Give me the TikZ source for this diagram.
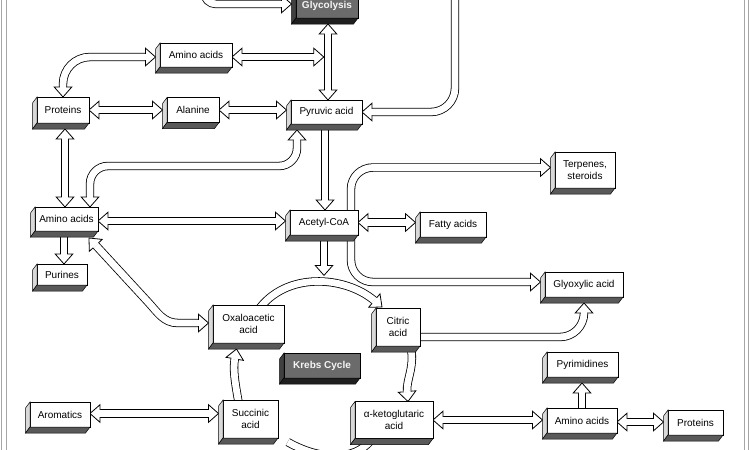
\documentclass[tikz,border=0pt]{standalone}
\usepackage{fontspec}
\setmainfont{Liberation Sans}
\usetikzlibrary{calc,decorations.markings}
\pgfdeclarelayer{bg}
\pgfdeclarelayer{arr}
\pgfsetlayers{bg,arr,main}
\def\HL{10pt}
\newcommand\headshape{%
  \draw[black,fill=white,line width=0.8pt,line join=miter] (0pt,0pt) -- (-10pt,8.8pt) -- (-10pt,-8.8pt) -- cycle;
  \fill[white] (-10.8pt,-3.4pt) rectangle (-9pt,3.4pt);}
\newcommand\headback{%
  \draw[black,fill=white,line width=0.8pt,line join=miter] (0pt,0pt) -- (10pt,8.8pt) -- (10pt,-8.8pt) -- cycle;
  \fill[white] (10.8pt,-3.4pt) rectangle (9pt,3.4pt);}
\tikzset{
  shaftO/.style={line width=8.4pt, draw=black},
  shaftI/.style={line width=6.8pt, draw=white},
  hE/.style={decorate, decoration={markings, mark=at position 1 with {\headshape}}},
  hB/.style={decorate, decoration={markings, mark=at position 0 with {\headback}, mark=at position 1 with {\headshape}}},
  box/.style={draw, line width=0.7pt, fill=white, inner sep=0pt, outer sep=0pt, align=center, font=\fontsize{10}{12}\selectfont},
  dbox/.style={box, fill=black!58, text=gray!8, font=\fontsize{10}{12}\selectfont\bfseries},
  sideL/.style={fill=gray!30, draw=black, line width=0.5pt},
  sideB/.style={fill=black!65, draw=black, line width=0.5pt},
  dsideL/.style={fill=black!75, draw=black, line width=0.5pt},
  dsideB/.style={fill=black!88, draw=black, line width=0.5pt},
}
\newcommand\FE[1]{\draw[shaftO, shorten >=\HL] #1; \draw[shaftI, shorten >=\HL] #1; \path[hE] #1;}
\newcommand\FB[1]{\draw[shaftO, shorten >=\HL, shorten <=\HL] #1; \draw[shaftI, shorten >=\HL, shorten <=\HL] #1; \path[hB] #1;}
\newcommand\ext[3]{% #1 name, #2 left style, #3 bottom style
  \draw[#2] (#1.north west) -- ($(#1.north west)+(-4.5,6)$) -- ($(#1.south west)+(-4.5,6)$) -- (#1.south west) -- cycle;
  \draw[#3] (#1.south west) -- ($(#1.south west)+(-4.5,6)$) -- ($(#1.south east)+(-4.5,6)$) -- (#1.south east) -- cycle;}
\begin{document}
\begin{tikzpicture}[x=1pt,y=-1pt]
\clip (0,0) rectangle (750,450);
\begin{pgfonlayer}{bg}
\fill[white] (0,0) rectangle (750,450);
\end{pgfonlayer}
% frame
\draw[gray!70, line width=0.8pt] (1.5,0) -- (1.5,450) (6,0) -- (6,450) (744.3,0) -- (744.3,450) (748.3,0) -- (748.3,450);
% boxes
\node[dbox, minimum width=62pt, minimum height=24pt] (gly) at (327,6) {Glycolysis};
\node[box, minimum width=72pt, minimum height=24pt] (aaT) at (196,55) {Amino acids};
\node[box, minimum width=52pt, minimum height=26pt] (prot1) at (63,110) {Proteins};
\node[box, minimum width=52pt, minimum height=25pt] (ala) at (193,110) {Alanine};
\node[box, minimum width=71pt, minimum height=24pt] (pyr) at (326.5,112) {Pyruvic acid};
\node[box, minimum width=63pt, minimum height=24pt] (aaL) at (66.5,219) {Amino acids};
\node[box, minimum width=50pt, minimum height=21pt] (pur) at (62,274.5) {Purines};
\node[box, minimum width=68pt, minimum height=25pt] (acc) at (324,222.5) {Acetyl-CoA};
\node[box, minimum width=66pt, minimum height=25pt] (fat) at (453,224.5) {Fatty acids};
\node[box, minimum width=60pt, minimum height=36pt] (ter) at (585,170) {Terpenes,\\steroids};
\node[box, minimum width=78pt, minimum height=25pt] (glx) at (584,284.5) {Glyoxylic acid};
\node[box, minimum width=71pt, minimum height=38pt] (oxa) at (248.5,324) {Oxaloacetic\\acid};
\node[box, minimum width=44pt, minimum height=38pt] (cit) at (398,327) {Citric\\acid};
\node[dbox, minimum width=76pt, minimum height=25pt] (krebs) at (322,365.5) {Krebs Cycle};
\node[box, minimum width=55pt, minimum height=38pt] (suc) at (250.5,419) {Succinic\\acid};
\node[box, minimum width=78pt, minimum height=37pt] (akg) at (394,420) {α-ketoglutaric\\acid};
\node[box, minimum width=70pt, minimum height=25pt] (aaR) at (582,420.5) {Amino acids};
\node[box, minimum width=71pt, minimum height=25pt] (pyrim) at (582.5,364.5) {Pyrimidines};
\node[box, minimum width=55pt, minimum height=25pt] (prot2) at (695.5,422.5) {Proteins};
\node[box, minimum width=60pt, minimum height=25pt] (aro) at (60,414.5) {Aromatics};
% extrusions
\foreach \n in {aaT,prot1,ala,pyr,aaL,pur,acc,fat,ter,glx,oxa,cit,suc,akg,aaR,pyrim,prot2,aro} {\ext{\n}{sideL}{sideB}}
\foreach \n in {gly,krebs} {\ext{\n}{dsideL}{dsideB}}
% connectors
\coordinate (j1) at (323.8,57);
\coordinate (ktop) at (324,275.4);
\begin{pgfonlayer}{arr}
\FE{(204,-30) -- (204,-8) to[out=-90,in=180] (216,4) -- ($(gly.west)+(-4.5,-2)$)}
\FE{(455,-30) -- (455,88) to[out=-90,in=0] (431,112) -- (pyr.east)}
\FB{($(gly.south)+(1,6)$) -- ($(pyr.north)+(1.5,0)$)}
\FB{($(aaT.east)+(0,2)$) -- (j1)}
\FB{($(aaT.west)+(-4.5,2)$) -- (90,57) to[out=180,in=90] (63,84) -- (prot1.north)}
\FB{(prot1.east) -- ($(ala.west)+(-4.5,0)$)}
\FB{(ala.east) -- ($(pyr.west)+(-4.5,-2)$)}
\FB{($(prot1.south)+(2,6)$) -- ($(aaL.north)+(-1.5,0)$)}
\FB{($(pyr.south west)+(6,6)$) -- (297,148) to[out=-90,in=0] (279,166) -- (108,166) to[out=180,in=90] (90,184) -- ($(aaL.north)+(23.5,0)$)}
\FE{($(pyr.south)+(-1.5,0)$) -- ($(acc.north)+(1,0)$)}
\FB{($(aaL.east)+(0,2)$) -- ($(acc.west)+(-4.5,-1.5)$)}
\FE{($(aaL.south)+(-2.5,0)$) -- ($(pur.north)+(2,0)$)}
\FB{($(aaL.south east)+(-9,7)$) -- (148,302) to[out=-47.3,in=180] (178,323) -- ($(oxa.west)+(-4.5,-1)$)}
\FB{(acc.east) -- ($(fat.west)+(-4.5,-2)$)}
\FB{($(ter.west)+(-4.5,-2.5)$) -- (373,167.5) to[out=180,in=90] (351,189) -- (351,260) to[out=-90,in=180] (373,282) -- ($(glx.west)+(-4.5,-2.5)$)}
\FE{($(oxa.north)+(9,6)$) to[out=55,in=140] ($(cit.north west)+(6,-1)$)}
\FE{(acc.south) -- (ktop)}
\FE{($(cit.south)+(12,-2)$) to[out=-75,in=95] ($(akg.north)+(14,0)$)}
\FE{($(akg.south)+(-20,-2)$) to[out=-125,in=-30] ($(suc.south east)+(1,-1)$)}
\FE{($(suc.north)+(-12,2)$) to[out=100,in=-100] ($(oxa.south)+(-12,6)$)}
\FE{($(cit.east)+(-2,10)$) -- (560,337) to[out=0,in=-90] (584,313) -- ($(glx.south)+(0,6)$)}
\FB{(akg.east) -- ($(aaR.west)+(-4.5,-0.5)$)}
\FE{(aaR.north) -- ($(pyrim.south)+(-0.5,6)$)}
\FB{($(aaR.east)+(0,1.5)$) -- ($(prot2.west)+(-4.5,-0.5)$)}
\FB{($(aro.east)+(0,-1)$) -- ($(suc.west)+(-4.5,-5.5)$)}
\end{pgfonlayer}
\end{tikzpicture}
\end{document}
